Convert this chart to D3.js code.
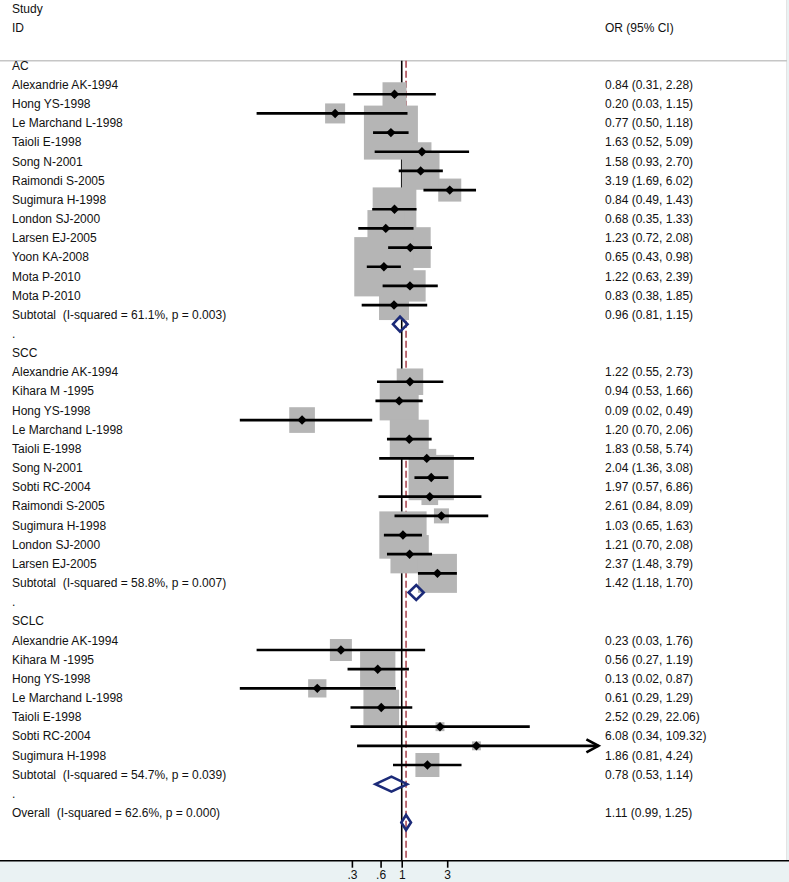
<!DOCTYPE html>
<html><head><meta charset="utf-8">
<script src="https://cdn.jsdelivr.net/npm/d3@7"></script>
<style>
html,body{margin:0;padding:0;background:#fff}
svg{display:block}
text{font-family:"Liberation Sans",Arial,Helvetica,sans-serif;}
</style>
</head><body>
<svg id="chart" width="789" height="882"></svg>
<script>
// ---------------- DATA ----------------
const groupNames = ["AC", "SCC", "SCLC"];

const acStudies = ["Alexandrie AK-1994","Hong YS-1998","Le Marchand L-1998","Taioli E-1998","Song N-2001","Raimondi S-2005","Sugimura H-1998","London SJ-2000","Larsen EJ-2005","Yoon KA-2008","Mota P-2010","Mota P-2010"];
const acOR  = [0.84,0.20,0.77,1.63,1.58,3.19,0.84,0.68,1.23,0.65,1.22,0.83];
const acLo  = [0.31,0.03,0.50,0.52,0.93,1.69,0.49,0.35,0.72,0.43,0.63,0.38];
const acHi  = [2.28,1.15,1.18,5.09,2.70,6.02,1.43,1.33,2.08,0.98,2.39,1.85];
const acWeight = [1.74,1.21,8.80,1.09,4.29,1.60,5.76,4.06,5.02,10.61,2.97,2.71];

const sccStudies = ["Alexandrie AK-1994","Kihara M -1995","Hong YS-1998","Le Marchand L-1998","Taioli E-1998","Song N-2001","Sobti RC-2004","Raimondi S-2005","Sugimura H-1998","London SJ-2000","Larsen EJ-2005"];
const sccOR = [1.22,0.94,0.09,1.20,1.83,2.04,1.97,2.61,1.03,1.21,2.37];
const sccLo = [0.55,0.53,0.02,0.70,0.58,1.36,0.57,0.84,0.65,0.70,1.48];
const sccHi = [2.73,1.66,0.49,2.06,5.74,3.08,6.86,8.09,1.63,2.08,3.79];
const sccWeight = [2.12,4.59,1.99,4.59,1.09,6.19,0.84,0.68,6.75,4.43,4.59];

const sclcStudies = ["Alexandrie AK-1994","Kihara M -1995","Hong YS-1998","Le Marchand L-1998","Taioli E-1998","Sobti RC-2004","Sugimura H-1998"];
const sclcOR = [0.23,0.56,0.13,0.61,2.52,6.08,1.86];
const sclcLo = [0.03,0.27,0.02,0.29,0.29,0.34,0.81];
const sclcHi = [1.76,1.19,0.87,1.29,22.06,109.32,4.24];
const sclcWeight = [1.46,3.76,1.01,3.84,0.24,0.24,1.74];

const subtotalI2 = ["61.1","58.8","54.7"];
const subtotalP  = ["0.003","0.007","0.039"];
const subtotalOR = [0.96,1.42,0.78];
const subtotalLo = [0.81,1.18,0.53];
const subtotalHi = [1.15,1.70,1.14];

const overallI2 = "62.6", overallP = "0.000";
const overallOR = 1.11, overallLo = 0.99, overallHi = 1.25;

const xTickValues = [0.3, 0.6, 1, 3];
const xTickLabels = [".3", ".6", "1", "3"];
const xClipMax = 109;   // upper limit of the plotted OR range (CIs beyond get an arrow)

// ---------------- BUILD ROWS ----------------
const groupData = [
  {s: acStudies, or: acOR, lo: acLo, hi: acHi, w: acWeight},
  {s: sccStudies, or: sccOR, lo: sccLo, hi: sccHi, w: sccWeight},
  {s: sclcStudies, or: sclcOR, lo: sclcLo, hi: sclcHi, w: sclcWeight}
];
const rows = [];
groupNames.forEach((g, gi) => {
  rows.push({type: "group", label: g});
  const d = groupData[gi];
  d.s.forEach((name, i) => rows.push({type: "study", label: name, or: d.or[i], lo: d.lo[i], hi: d.hi[i], w: d.w[i]}));
  rows.push({type: "subtotal", label: `Subtotal  (I-squared = ${subtotalI2[gi]}%, p = ${subtotalP[gi]})`,
             or: subtotalOR[gi], lo: subtotalLo[gi], hi: subtotalHi[gi]});
  rows.push({type: "spacer", label: "."});
});
rows.push({type: "overall", label: `Overall  (I-squared = ${overallI2}%, p = ${overallP})`, or: overallOR, lo: overallLo, hi: overallHi});
rows.forEach((r, i) => r.idx = i);

// ---------------- SCALES ----------------
const W = 789, H = 882;
const axisY = 860.7, sepY = 60.7;
const x = d3.scaleLog().domain([0.3, 3]).range([351.9, 447.2]);
const y = d3.scaleLinear().domain([0, rows.length - 1]).range([75.1, 822.5]);
const textOffset = -9.4;
const boxScale = 18.2;       // box side = boxScale * sqrt(weight)
const xRight = x(xClipMax) + 2.5;

const svg = d3.select("#chart");

// backgrounds
svg.append("rect").attr("x", 0).attr("y", 0).attr("width", W).attr("height", H).attr("fill", "#eaf2f3");
svg.append("rect").attr("x", 0).attr("y", 0).attr("width", 787).attr("height", axisY).attr("fill", "#ffffff");
svg.append("line").attr("x1", 786.5).attr("x2", 786.5).attr("y1", 0).attr("y2", axisY)
  .attr("stroke", "#e4e4e4").attr("stroke-width", 1);

// separator
svg.append("line").attr("x1", 0).attr("x2", 787).attr("y1", sepY).attr("y2", sepY)
  .attr("stroke", "#c6c6c6").attr("stroke-width", 1.6);

// null line
svg.append("line").attr("x1", x(1)).attr("x2", x(1)).attr("y1", sepY).attr("y2", axisY)
  .attr("stroke", "#000").attr("stroke-width", 1.6);
// overall effect dashed line
svg.append("line").attr("x1", x(overallOR)).attr("x2", x(overallOR)).attr("y1", sepY).attr("y2", axisY)
  .attr("stroke", "#a0303c").attr("stroke-width", 1.4).attr("stroke-dasharray", "7,3");

const studies = rows.filter(r => r.type === "study");

// boxes
svg.append("g").selectAll("rect").data(studies).join("rect")
  .attr("x", d => x(d.or) - boxScale * Math.sqrt(d.w) / 2)
  .attr("y", d => y(d.idx) - boxScale * Math.sqrt(d.w) / 2)
  .attr("width", d => boxScale * Math.sqrt(d.w))
  .attr("height", d => boxScale * Math.sqrt(d.w))
  .attr("fill", "#b5b5b5");

// CI lines
svg.append("g").selectAll("line").data(studies).join("line")
  .attr("x1", d => x(d.lo))
  .attr("x2", d => d.hi > xClipMax ? xRight : x(d.hi))
  .attr("y1", d => y(d.idx)).attr("y2", d => y(d.idx))
  .attr("stroke", "#000").attr("stroke-width", 2.7);

// arrows for clipped CIs
studies.filter(d => d.hi > xClipMax).forEach(d => {
  const yy = y(d.idx);
  svg.append("path")
    .attr("d", `M${xRight - 12},${yy - 6.5}L${xRight},${yy}L${xRight - 12},${yy + 6.5}`)
    .attr("fill", "none").attr("stroke", "#000").attr("stroke-width", 2.7);
});

// point markers
svg.append("g").selectAll("path").data(studies).join("path")
  .attr("d", d => {
    const cx = x(d.or), cy = y(d.idx), s = 4.7;
    return `M${cx - s},${cy}L${cx},${cy - s}L${cx + s},${cy}L${cx},${cy + s}Z`;
  })
  .attr("fill", "#000");

// diamonds
const pooled = rows.filter(r => r.type === "subtotal" || r.type === "overall");
svg.append("g").selectAll("path").data(pooled).join("path")
  .attr("d", d => {
    const cy = y(d.idx), h = 7.5;
    return `M${x(d.lo)},${cy}L${x(d.or)},${cy - h}L${x(d.hi)},${cy}L${x(d.or)},${cy + h}Z`;
  })
  .attr("fill", "none").attr("stroke", "#1b2a78").attr("stroke-width", 2.6)
  .attr("stroke-linejoin", "miter");

// texts
const fs = 12;
svg.append("text").attr("x", 12).attr("y", 8.6).attr("dominant-baseline", "central")
  .attr("font-size", fs).attr("fill", "#111").text("Study");
svg.append("text").attr("x", 12).attr("y", 27.6).attr("dominant-baseline", "central")
  .attr("font-size", fs).attr("fill", "#111").text("ID");
svg.append("text").attr("x", 605).attr("y", 27.6).attr("dominant-baseline", "central")
  .attr("font-size", fs).attr("fill", "#111").text("OR (95% CI)");

svg.append("g").selectAll("text").data(rows).join("text")
  .attr("x", 12)
  .attr("y", d => y(d.idx) + textOffset)
  .attr("dominant-baseline", "central")
  .attr("font-size", fs).attr("fill", "#111")
  .style("white-space", "pre")
  .text(d => d.label);

const f2 = v => v.toFixed(2);
svg.append("g").selectAll("text").data(rows.filter(r => r.or !== undefined)).join("text")
  .attr("x", 605)
  .attr("y", d => y(d.idx) + textOffset)
  .attr("dominant-baseline", "central")
  .attr("font-size", fs).attr("fill", "#111")
  .text(d => `${f2(d.or)} (${f2(d.lo)}, ${f2(d.hi)})`);

// x axis
svg.append("line").attr("x1", 0).attr("x2", W).attr("y1", axisY).attr("y2", axisY)
  .attr("stroke", "#000").attr("stroke-width", 1.6);
const axis = d3.axisBottom(x).tickValues(xTickValues).tickFormat((d, i) => xTickLabels[i]).tickSize(7).tickPadding(3);
const ag = svg.append("g").attr("transform", `translate(0,${axisY})`).call(axis);
ag.select(".domain").remove();
ag.selectAll(".tick line").attr("stroke", "#000").attr("stroke-width", 1.6);
ag.selectAll(".tick text").attr("font-size", fs).attr("fill", "#111")
  .attr("font-family", '"Liberation Sans",Arial,sans-serif');
</script>
</body></html>
